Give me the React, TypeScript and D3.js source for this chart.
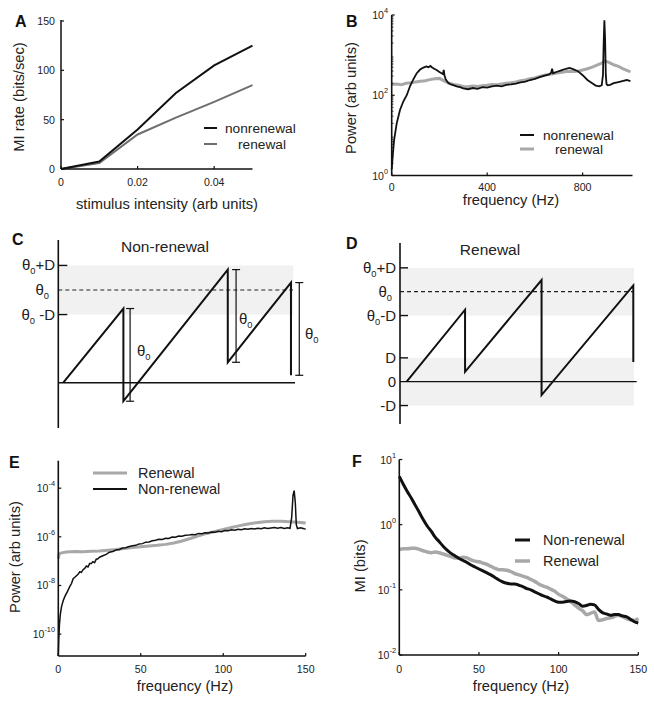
import React from 'react';
import * as d3 from 'd3';

const FONT = '"Liberation Sans", Arial, Helvetica, sans-serif';

// ---------- Panel A ----------
const aIntensity = [0, 0.01, 0.02, 0.03, 0.04, 0.05];
const aNonrenewal = [0, 7.5, 40, 77, 105, 125];
const aRenewal = [0, 6, 35, 52, 68, 85];
const aXTicks = [0, 0.02, 0.04];
const aYTicks = [0, 50, 100, 150];

// ---------- Panel B (frequency Hz, log10 power) ----------
const bNonFreq = [0, 4, 10, 21, 35, 49, 63, 77, 91, 105, 119, 133, 145, 154, 162, 168, 178, 188, 200, 209, 215, 218, 221, 226, 235, 244, 258, 272, 286, 300, 320, 340, 360, 380, 400, 420, 440, 460, 480, 500, 520, 540, 560, 580, 600, 620, 640, 660, 668, 672, 676, 690, 710, 730, 745, 760, 780, 800, 820, 840, 855, 870, 880, 885, 888, 891, 894, 897, 900, 905, 915, 930, 950, 970, 985, 1000];
const bNonExp = [0.15, 0.46, 0.88, 1.3, 1.64, 1.85, 2.0, 2.23, 2.4, 2.55, 2.64, 2.69, 2.72, 2.7, 2.73, 2.7, 2.66, 2.63, 2.58, 2.55, 2.53, 2.63, 2.5, 2.4, 2.32, 2.28, 2.25, 2.22, 2.2, 2.17, 2.15, 2.18, 2.16, 2.2, 2.19, 2.22, 2.24, 2.22, 2.26, 2.27, 2.29, 2.32, 2.34, 2.38, 2.41, 2.45, 2.49, 2.52, 2.56, 2.66, 2.55, 2.58, 2.62, 2.66, 2.68, 2.65, 2.6, 2.5, 2.38, 2.3, 2.24, 2.22, 2.25, 2.5, 3.3, 3.87, 3.4, 2.5, 2.28, 2.25, 2.26, 2.3, 2.33, 2.36, 2.38, 2.35];
const bRenFreq = [0, 20, 40, 60, 80, 100, 120, 140, 160, 180, 200, 220, 240, 260, 280, 300, 320, 340, 360, 380, 400, 420, 440, 460, 480, 500, 520, 540, 560, 580, 600, 620, 640, 660, 680, 700, 720, 740, 760, 780, 800, 820, 840, 860, 880, 895, 910, 930, 950, 970, 990, 1000];
const bRenExp = [2.27, 2.28, 2.26, 2.3, 2.31, 2.33, 2.35, 2.36, 2.39, 2.41, 2.42, 2.36, 2.3, 2.27, 2.25, 2.22, 2.21, 2.23, 2.22, 2.24, 2.25, 2.27, 2.26, 2.28, 2.3, 2.31, 2.33, 2.36, 2.38, 2.41, 2.43, 2.47, 2.5, 2.52, 2.54, 2.56, 2.58, 2.6, 2.59, 2.6, 2.63, 2.66, 2.7, 2.75, 2.8, 2.85, 2.82, 2.76, 2.72, 2.66, 2.61, 2.58];
const bXTicks = [0, 400, 800];
const bYTickExps = [0, 2, 4];

// ---------- Panel C (non-renewal sawtooth, units of theta0) ----------
const cStart = 2.1;
const cSpikeTimes = [27.5, 71.6, 98.3];
const cPeaks = [0.8, 1.22, 1.08];
const cResets = [-0.2, 0.22, 0.08];
const cD = 0.265;

// ---------- Panel D (renewal sawtooth) ----------
const dStart = 2.85;
const dSpikeTimes = [27.8, 60.5, 99.7];
const dPeaks = [0.8, 1.13, 1.07];
const dResets = [0.11, -0.148, 0.22];
const dD = 0.265;

// ---------- Panel E (frequency Hz, log10 power) ----------
const eRenFreq = [0, 0.5, 2, 5, 10, 15, 20, 25, 30, 35, 40, 45, 50, 55, 60, 65, 70, 75, 80, 85, 90, 95, 100, 105, 110, 115, 120, 125, 130, 135, 140, 145, 150];
const eRenExp = [-6.9, -6.7, -6.66, -6.62, -6.6, -6.61, -6.59, -6.58, -6.55, -6.52, -6.48, -6.44, -6.41, -6.38, -6.35, -6.31, -6.25, -6.17, -6.07, -5.96, -5.86, -5.78, -5.7, -5.62, -5.54, -5.47, -5.42, -5.38, -5.36, -5.36, -5.38, -5.4, -5.43];
const eNonFreq = [0, 0.3, 0.7, 1.2, 2, 3, 4, 5.5, 7, 8, 9, 10, 11, 12, 13, 14, 15, 16, 17, 18, 19, 20, 21, 22, 23, 24, 25, 27, 29, 31, 33, 35, 37, 39, 41, 43, 45, 47, 49, 51, 53, 55, 57, 59, 61, 63, 65, 67, 69, 71, 73, 75, 77, 79, 81, 83, 85, 87, 89, 91, 93, 95, 97, 99, 101, 103, 105, 107, 109, 111, 113, 115, 117, 119, 121, 123, 125, 127, 129, 131, 133, 135, 137, 139, 140.5, 141.5, 142.3, 143, 143.7, 144.3, 145, 147, 149, 150];
const eNonExp = [-10.9, -10.2, -9.6, -9.2, -8.86, -8.62, -8.45, -8.25, -8.04, -7.92, -7.72, -7.66, -7.6, -7.54, -7.44, -7.46, -7.35, -7.3, -7.2, -7.24, -7.1, -7.1, -7.02, -7.06, -6.92, -6.9, -6.84, -6.78, -6.72, -6.63, -6.6, -6.54, -6.52, -6.46, -6.45, -6.4, -6.37, -6.35, -6.29, -6.28, -6.22, -6.21, -6.16, -6.14, -6.1, -6.11, -6.06, -6.07, -6.01, -6.02, -5.97, -5.98, -5.94, -5.93, -5.9, -5.91, -5.86, -5.87, -5.83, -5.84, -5.8, -5.81, -5.77, -5.79, -5.74, -5.75, -5.71, -5.73, -5.69, -5.71, -5.67, -5.69, -5.66, -5.68, -5.65, -5.67, -5.63, -5.66, -5.64, -5.62, -5.65, -5.62, -5.66, -5.63, -5.65, -5.2, -4.3, -4.1, -4.6, -5.5, -5.66, -5.63, -5.67, -5.68];
const eXTicks = [0, 50, 100, 150];
const eYTickExps = [-10, -8, -6, -4];

// ---------- Panel F (frequency Hz, log10 MI) ----------
const fFreq = [0, 2.5, 5, 7.5, 10, 12.5, 15, 17.5, 20, 22.5, 25, 27.5, 30, 32.5, 35, 37.5, 40, 42.5, 45, 47.5, 50, 52.5, 55, 57.5, 60, 62.5, 65, 67.5, 70, 72.5, 75, 77.5, 80, 82.5, 85, 87.5, 90, 92.5, 95, 97.5, 100, 102.5, 105, 107.5, 110, 112.5, 115, 117.5, 120, 122.5, 125, 127.5, 130, 132.5, 135, 137.5, 140, 142.5, 145, 147.5, 150];
const fNonExp = [0.74, 0.62, 0.51, 0.41, 0.3, 0.19, 0.08, -0.02, -0.1, -0.19, -0.26, -0.33, -0.39, -0.44, -0.48, -0.52, -0.55, -0.58, -0.62, -0.65, -0.68, -0.71, -0.74, -0.77, -0.81, -0.85, -0.88, -0.9, -0.91, -0.91, -0.93, -0.95, -0.98, -1.0, -1.03, -1.06, -1.09, -1.11, -1.14, -1.17, -1.19, -1.19, -1.18, -1.17, -1.18, -1.21, -1.25, -1.24, -1.22, -1.23, -1.3, -1.35, -1.37, -1.39, -1.38, -1.38, -1.4, -1.41, -1.45, -1.49, -1.51];
const fRenExp = [-0.38, -0.37, -0.37, -0.36, -0.36, -0.38, -0.4, -0.42, -0.43, -0.42, -0.43, -0.45, -0.47, -0.49, -0.51, -0.51, -0.5, -0.51, -0.54, -0.56, -0.57, -0.59, -0.61, -0.64, -0.67, -0.69, -0.69, -0.7, -0.72, -0.75, -0.77, -0.79, -0.81, -0.84, -0.87, -0.91, -0.94, -0.96, -0.99, -1.02, -1.07, -1.1, -1.14, -1.18, -1.23, -1.28, -1.32, -1.38, -1.36, -1.34, -1.47, -1.46, -1.44, -1.43, -1.41, -1.39, -1.41, -1.44, -1.46, -1.47, -1.44];
const fXTicks = [0, 50, 100, 150];
const fYTickExps = [-2, -1, 0, 1];

const GRAY = '#a8a8a8';

function Pow({ x, y, exp, size = 10.5 }: { x: number; y: number; exp: number; size?: number }) {
  return (
    <text x={x} y={y + 4} textAnchor="end" fontSize={size} fill="#222">
      10<tspan dy={-6} fontSize={size * 0.7}>{exp}</tspan>
    </text>
  );
}

function PanelLetter({ x, y, t }: { x: number; y: number; t: string }) {
  return (
    <text x={x} y={y} fontSize={16} fontWeight="bold" fill="#111">{t}</text>
  );
}

function YTitle({ x, y, t }: { x: number; y: number; t: string }) {
  return (
    <text transform={`translate(${x},${y}) rotate(-90)`} textAnchor="middle" fontSize={14.7} fill="#222">{t}</text>
  );
}

function Theta({ x, y, suffix = '', anchor = 'start', size = 15 }: { x: number; y: number; suffix?: string; anchor?: string; size?: number }) {
  return (
    <text x={x} y={y} textAnchor={anchor as any} fontSize={size} fill="#222">
      θ<tspan dy={4} fontSize={size * 0.62}>0</tspan>
      {suffix ? <tspan dy={-4}>{suffix}</tspan> : null}
    </text>
  );
}

function PanelA() {
  const x = d3.scaleLinear().domain([0, 0.05]).range([61, 252.5]);
  const y = d3.scaleLinear().domain([0, 150]).range([169, 21]);
  const line = d3.line<number>().x((_, i) => x(aIntensity[i])).y((d) => y(d));
  return (
    <g>
      <PanelLetter x={15} y={27} t="A" />
      <path d={line(aRenewal) || ''} fill="none" stroke="#6e6e6e" strokeWidth={2} />
      <path d={line(aNonrenewal) || ''} fill="none" stroke="#111" strokeWidth={2} />
      <line x1={x(0)} x2={x(0)} y1={y(0)} y2={y(150) - 1} stroke="#111" strokeWidth={1.5} />
      <line x1={x(0)} x2={x(0.05)} y1={y(0)} y2={y(0)} stroke="#111" strokeWidth={1.5} />
      {aYTicks.map((t) => (
        <g key={t}>
          <line x1={x(0)} x2={x(0) + 3} y1={y(t)} y2={y(t)} stroke="#111" strokeWidth={1.2} />
          <text x={55} y={y(t) + 4} textAnchor="end" fontSize={10.6} fill="#222">{t}</text>
        </g>
      ))}
      {aXTicks.map((t) => (
        <g key={t}>
          <line x1={x(t)} x2={x(t)} y1={y(0)} y2={y(0) - 3} stroke="#111" strokeWidth={1.2} />
          <text x={x(t)} y={186} textAnchor="middle" fontSize={10.6} fill="#222">{t === 0 ? '0' : t.toFixed(2)}</text>
        </g>
      ))}
      <text x={167} y={209} textAnchor="middle" fontSize={14.7} fill="#222">stimulus intensity (arb units)</text>
      <YTitle x={24} y={97} t="MI rate (bits/sec)" />
      <line x1={204} x2={217} y1={128} y2={128} stroke="#111" strokeWidth={2} />
      <text x={225} y={132.5} fontSize={13.7} fill="#222">nonrenewal</text>
      <line x1={204} x2={217} y1={144} y2={144} stroke="#6e6e6e" strokeWidth={2} />
      <text x={238} y={148.5} fontSize={13.7} fill="#222">renewal</text>
    </g>
  );
}

function PanelB() {
  const x = d3.scaleLinear().domain([0, 1000]).range([391.7, 630.4]);
  const y = d3.scaleLog().domain([1, 1e4]).range([175.5, 15]);
  const lineNon = d3.line<number>().x((_, i) => x(bNonFreq[i])).y((e) => y(Math.pow(10, e)));
  const lineRen = d3.line<number>().x((_, i) => x(bRenFreq[i])).y((e) => y(Math.pow(10, e)));
  const minor: number[] = [];
  for (let dec = 0; dec < 4; dec++) for (let m = 2; m < 10; m++) minor.push(m * Math.pow(10, dec));
  return (
    <g>
      <PanelLetter x={346} y={27} t="B" />
      <path d={lineRen(bRenExp) || ''} fill="none" stroke={GRAY} strokeWidth={3} />
      <path d={lineNon(bNonExp) || ''} fill="none" stroke="#111" strokeWidth={1.8} />
      <line x1={x(0)} x2={x(0)} y1={y(1)} y2={y(1e4)} stroke="#111" strokeWidth={1.6} />
      <line x1={x(0)} x2={632.5} y1={y(1)} y2={y(1)} stroke="#111" strokeWidth={1.6} />
      {minor.map((m) => (
        <line key={m} x1={x(0)} x2={x(0) + 1.8} y1={y(m)} y2={y(m)} stroke="#111" strokeWidth={0.8} />
      ))}
      {bYTickExps.map((e) => (
        <g key={e}>
          <line x1={x(0)} x2={x(0) + 3} y1={y(Math.pow(10, e))} y2={y(Math.pow(10, e))} stroke="#111" strokeWidth={1.2} />
          <Pow x={388} y={y(Math.pow(10, e))} exp={e} />
        </g>
      ))}
      {bXTicks.map((t) => (
        <g key={t}>
          <line x1={x(t)} x2={x(t)} y1={y(1)} y2={y(1) - 3} stroke="#111" strokeWidth={1.2} />
          <text x={x(t)} y={191} textAnchor="middle" fontSize={10.6} fill="#222">{t}</text>
        </g>
      ))}
      <text x={511} y={205} textAnchor="middle" fontSize={14.7} fill="#222">frequency (Hz)</text>
      <YTitle x={356} y={98} t="Power (arb units)" />
      <line x1={520} x2={534} y1={135} y2={135} stroke="#111" strokeWidth={2} />
      <text x={543} y={139.5} fontSize={13.7} fill="#222">nonrenewal</text>
      <line x1={520} x2={534} y1={149} y2={149} stroke={GRAY} strokeWidth={3} />
      <text x={555} y={153.5} fontSize={13.7} fill="#222">renewal</text>
    </g>
  );
}

function sawPoints(start: number, times: number[], peaks: number[], resets: number[]) {
  const pts: [number, number][] = [[start, 0]];
  times.forEach((t, i) => {
    pts.push([t, peaks[i]]);
    pts.push([t, resets[i]]);
  });
  return pts;
}

function PanelC() {
  const x = d3.scaleLinear().domain([0, 100]).range([58.3, 295]);
  const y = d3.scaleLinear().domain([0, 1]).range([382.7, 290]);
  const line = d3.line<[number, number]>().x((d) => x(d[0])).y((d) => y(d[1]));
  const pts = sawPoints(cStart, cSpikeTimes, cPeaks, cResets);
  const offs = [6.7, 8.3, 8.3];
  const labelPos: [number, number][] = [[137, 356], [239, 324], [305, 339]];
  return (
    <g>
      <PanelLetter x={12} y={245} t="C" />
      <rect x={x(0)} y={y(1 + cD)} width={293.3 - x(0)} height={y(1 - cD) - y(1 + cD)} fill="#f1f1f1" />
      <line x1={x(0)} x2={293} y1={y(1)} y2={y(1)} stroke="#222" strokeWidth={1.2} strokeDasharray="4,3" />
      <line x1={x(0)} x2={x(0)} y1={240} y2={428} stroke="#111" strokeWidth={1.6} />
      <line x1={x(0)} x2={295} y1={y(0)} y2={y(0)} stroke="#111" strokeWidth={1.6} />
      {[1 + cD, 1 - cD].map((v) => (
        <line key={v} x1={x(0)} x2={x(0) + 9} y1={y(v)} y2={y(v)} stroke="#111" strokeWidth={1.4} />
      ))}
      <Theta x={55} y={y(1 + cD) + 5} suffix="+D" anchor="end" />
      <Theta x={49} y={y(1) + 5} anchor="end" />
      <Theta x={55} y={y(1 - cD) + 5} suffix=" -D" anchor="end" />
      <path d={line(pts) || ''} fill="none" stroke="#111" strokeWidth={2} strokeLinejoin="miter" />
      {cSpikeTimes.map((t, i) => {
        const bx = x(t) + offs[i];
        return (
          <g key={t}>
            <line x1={bx} x2={bx} y1={y(cPeaks[i])} y2={y(cResets[i])} stroke="#111" strokeWidth={1.2} />
            <line x1={bx - 4} x2={bx + 4} y1={y(cPeaks[i])} y2={y(cPeaks[i])} stroke="#111" strokeWidth={1.2} />
            <line x1={bx - 4} x2={bx + 4} y1={y(cResets[i])} y2={y(cResets[i])} stroke="#111" strokeWidth={1.2} />
            <Theta x={labelPos[i][0]} y={labelPos[i][1]} />
          </g>
        );
      })}
      <text x={165} y={252} textAnchor="middle" fontSize={15.5} fill="#222">Non-renewal</text>
    </g>
  );
}

function PanelD() {
  const x = d3.scaleLinear().domain([0, 100]).range([400, 634]);
  const y = d3.scaleLinear().domain([0, 1]).range([381.7, 291.7]);
  const line = d3.line<[number, number]>().x((d) => x(d[0])).y((d) => y(d[1]));
  const pts = sawPoints(dStart, dSpikeTimes, dPeaks, dResets);
  return (
    <g>
      <PanelLetter x={346} y={249} t="D" />
      <rect x={x(0)} y={y(1 + dD)} width={634 - x(0)} height={y(1 - dD) - y(1 + dD)} fill="#f1f1f1" />
      <rect x={x(0)} y={y(dD)} width={634 - x(0)} height={y(-dD) - y(dD)} fill="#f1f1f1" />
      <line x1={x(0)} x2={634} y1={y(1)} y2={y(1)} stroke="#222" strokeWidth={1.2} strokeDasharray="4,3" />
      <line x1={x(0)} x2={x(0)} y1={243} y2={424} stroke="#111" strokeWidth={1.6} />
      <line x1={x(0)} x2={636.7} y1={y(0)} y2={y(0)} stroke="#111" strokeWidth={1.3} />
      {[1 + dD, 1 - dD, dD, -dD].map((v) => (
        <line key={v} x1={x(0)} x2={x(0) + 8} y1={y(v)} y2={y(v)} stroke="#111" strokeWidth={1.4} />
      ))}
      <Theta x={396} y={y(1 + dD) + 5} suffix="+D" anchor="end" />
      <Theta x={392} y={y(1) + 5} anchor="end" />
      <Theta x={396} y={y(1 - dD) + 5} suffix="-D" anchor="end" />
      <text x={396} y={y(dD) + 5} textAnchor="end" fontSize={15} fill="#222">D</text>
      <text x={396} y={y(0) + 5} textAnchor="end" fontSize={15} fill="#222">0</text>
      <text x={396} y={y(-dD) + 5} textAnchor="end" fontSize={15} fill="#222">-D</text>
      <path d={line(pts) || ''} fill="none" stroke="#111" strokeWidth={2} />
      <text x={490} y={255} textAnchor="middle" fontSize={15.5} fill="#222">Renewal</text>
    </g>
  );
}

function PanelE() {
  const x = d3.scaleLinear().domain([0, 150]).range([58.3, 305.7]);
  const y = d3.scaleLog().domain([Math.pow(10, -10.9), Math.pow(10, -2.87)]).range([656, 460.7]);
  const lineRen = d3.line<number>().x((_, i) => x(eRenFreq[i])).y((e) => y(Math.pow(10, e)));
  const lineNon = d3.line<number>().x((_, i) => x(eNonFreq[i])).y((e) => y(Math.pow(10, e)));
  return (
    <g>
      <PanelLetter x={9} y={468} t="E" />
      <path d={lineRen(eRenExp) || ''} fill="none" stroke={GRAY} strokeWidth={3} />
      <path d={lineNon(eNonExp) || ''} fill="none" stroke="#111" strokeWidth={1.5} />
      <line x1={x(0)} x2={x(0)} y1={656} y2={460.7} stroke="#111" strokeWidth={1.6} />
      <line x1={x(0)} x2={x(150)} y1={656} y2={656} stroke="#111" strokeWidth={1.6} />
      {eYTickExps.map((e) => (
        <g key={e}>
          <line x1={x(0)} x2={x(0) + 3} y1={y(Math.pow(10, e))} y2={y(Math.pow(10, e))} stroke="#111" strokeWidth={1.2} />
          <Pow x={55} y={y(Math.pow(10, e))} exp={e} />
        </g>
      ))}
      {eXTicks.map((t) => (
        <g key={t}>
          <line x1={x(t)} x2={x(t)} y1={656} y2={653} stroke="#111" strokeWidth={1.2} />
          <text x={x(t)} y={673} textAnchor="middle" fontSize={10.6} fill="#222">{t}</text>
        </g>
      ))}
      <text x={185} y={691} textAnchor="middle" fontSize={14.7} fill="#222">frequency (Hz)</text>
      <YTitle x={20} y={557} t="Power (arb units)" />
      <line x1={93} x2={127} y1={473} y2={473} stroke={GRAY} strokeWidth={3} />
      <text x={138} y={478} fontSize={14.5} fill="#222">Renewal</text>
      <line x1={93} x2={127} y1={489} y2={489} stroke="#111" strokeWidth={2} />
      <text x={138} y={494} fontSize={14.5} fill="#222">Non-renewal</text>
    </g>
  );
}

function PanelF() {
  const x = d3.scaleLinear().domain([0, 150]).range([399.3, 638.3]);
  const y = d3.scaleLog().domain([0.01, 10]).range([655, 459.5]);
  const line = d3.line<number>().x((_, i) => x(fFreq[i])).y((e) => y(Math.pow(10, e))).curve(d3.curveMonotoneX);
  return (
    <g>
      <PanelLetter x={352} y={467} t="F" />
      <path d={line(fRenExp) || ''} fill="none" stroke={GRAY} strokeWidth={3.5} />
      <path d={line(fNonExp) || ''} fill="none" stroke="#111" strokeWidth={3} />
      <line x1={x(0)} x2={x(0)} y1={655} y2={459.5} stroke="#111" strokeWidth={1.6} />
      <line x1={x(0)} x2={x(150)} y1={655} y2={655} stroke="#111" strokeWidth={1.6} />
      {fYTickExps.map((e) => (
        <g key={e}>
          <line x1={x(0)} x2={x(0) + 3} y1={y(Math.pow(10, e))} y2={y(Math.pow(10, e))} stroke="#111" strokeWidth={1.2} />
          <Pow x={396} y={y(Math.pow(10, e))} exp={e} />
        </g>
      ))}
      {fXTicks.map((t) => (
        <g key={t}>
          <line x1={x(t)} x2={x(t)} y1={655} y2={652} stroke="#111" strokeWidth={1.2} />
          <text x={x(t)} y={673} textAnchor="middle" fontSize={10.6} fill="#222">{t}</text>
        </g>
      ))}
      <text x={521} y={691} textAnchor="middle" fontSize={14.7} fill="#222">frequency (Hz)</text>
      <YTitle x={365} y={566} t="MI (bits)" />
      <line x1={515} x2={530} y1={540} y2={540} stroke="#111" strokeWidth={3} />
      <text x={543} y={545} fontSize={14.4} fill="#222">Non-renewal</text>
      <line x1={515} x2={530} y1={561} y2={561} stroke={GRAY} strokeWidth={3.5} />
      <text x={543} y={566} fontSize={14.4} fill="#222">Renewal</text>
    </g>
  );
}

export default function App() {
  return (
    <svg
      width={654}
      height={704}
      viewBox="0 0 654 704"
      style={{ position: 'absolute', left: 0, top: 0, background: '#fff', fontFamily: FONT }}
    >
      <rect width={654} height={704} fill="#fff" />
      <PanelA />
      <PanelB />
      <PanelC />
      <PanelD />
      <PanelE />
      <PanelF />
    </svg>
  );
}
